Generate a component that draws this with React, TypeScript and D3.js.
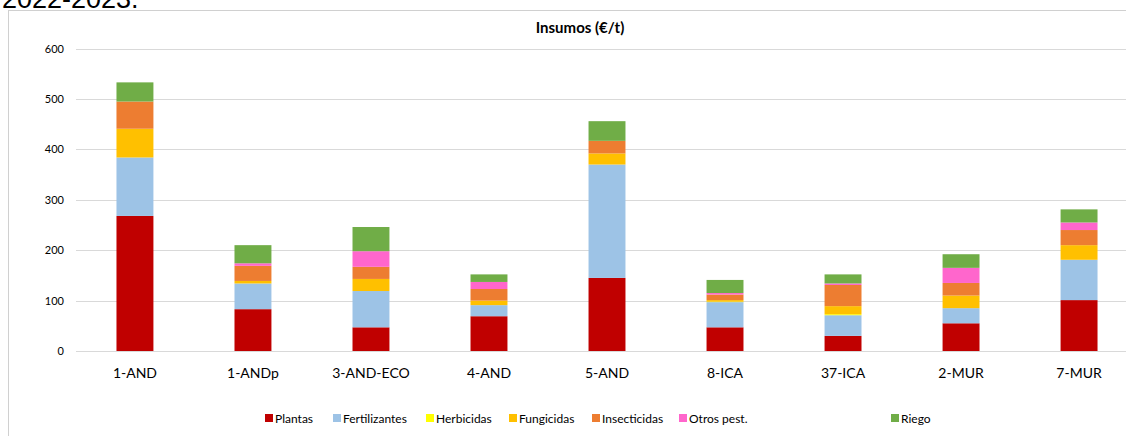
import { useRef, useEffect } from "react";
import * as d3 from "d3";

const categories = ["1-AND", "1-ANDp", "3-AND-ECO", "4-AND", "5-AND", "8-ICA", "37-ICA", "2-MUR", "7-MUR"];
const seriesNames = ["Plantas", "Fertilizantes", "Herbicidas", "Fungicidas", "Insecticidas", "Otros pest.", "Riego"];
const plantas = [268, 83, 47, 69, 145, 47, 30, 55, 101];
const fertilizantes = [116, 51, 72, 22, 225, 50, 41, 30, 80];
const herbicidas = [0, 0, 0, 0, 0, 1, 2, 0, 0];
const fungicidas = [57, 5, 24, 9, 22, 3, 16, 25, 29];
const insecticidas = [54, 30, 24, 23, 25, 11, 42, 25, 30];
const otros = [0, 5, 31, 14, 0, 3, 3, 30, 15];
const riego = [38, 36, 48, 15, 39, 26, 18, 27, 26];
const yTicks = [0, 100, 200, 300, 400, 500, 600];
const colors = ["#C00000", "#9DC3E6", "#FFFF00", "#FFC000", "#ED7D31", "#FF66CC", "#70AD47"];

const App = () => {
  const svgRef = useRef(null);

  useEffect(() => {
    const w = 1126;
    const h = 436;
    const svg = d3.select(svgRef.current).attr("width", w).attr("height", h);
    svg.selectAll("*").remove();

    // header text, cut off at the top like the source
    svg.append("text").attr("x", 2).attr("y", 8)
      .style("font-family", "Liberation Sans, Arial, sans-serif").style("font-size", "27px")
      .attr("fill", "#000").text("2022-2023.");

    // chart frame
    svg.append("rect").attr("x", 8.5).attr("y", 10.5).attr("width", 1200).attr("height", 500)
      .attr("fill", "#fff").attr("stroke", "#d0d0d0");

    const x = d3.scaleBand().domain(categories).range([76, 1138]).paddingInner(0.687).paddingOuter(0.343);
    const y = d3.scaleLinear().domain([0, 600]).range([351, 48.6]);

    // grid
    svg.append("g").selectAll("line").data(yTicks).join("line")
      .attr("x1", 76).attr("x2", w).attr("y1", (d) => Math.round(y(d)) + 0.5).attr("y2", (d) => Math.round(y(d)) + 0.5)
      .attr("stroke", "#d9d9d9").attr("stroke-width", 1);

    const yAxis = d3.axisLeft(y).tickValues(yTicks).tickSize(0).tickPadding(0);
    const yg = svg.append("g").attr("transform", "translate(64,0)").call(yAxis);
    yg.select(".domain").remove();
    yg.selectAll("text").style("font-family", "Lato, sans-serif").style("font-size", "11px").attr("fill", "#000");

    const rows = categories.map((c, i) => ({
      cat: c,
      Plantas: plantas[i], Fertilizantes: fertilizantes[i], Herbicidas: herbicidas[i],
      Fungicidas: fungicidas[i], Insecticidas: insecticidas[i], "Otros pest.": otros[i], Riego: riego[i],
    }));
    const stack = d3.stack().keys(seriesNames)(rows);

    svg.append("g").selectAll("g").data(stack).join("g")
      .attr("fill", (d, i) => colors[i])
      .selectAll("rect").data((d) => d).join("rect")
      .attr("x", (d) => x(d.data.cat))
      .attr("width", x.bandwidth())
      .attr("y", (d) => y(d[1]))
      .attr("height", (d) => y(d[0]) - y(d[1]));

    // x axis
    const xg = svg.append("g").attr("transform", "translate(0,351)").call(d3.axisBottom(x).tickSize(0).tickPadding(17));
    xg.select(".domain").remove();
    xg.selectAll("text").style("font-family", "Lato, sans-serif").style("font-size", "14px").attr("fill", "#000");

    // title
    svg.append("text").attr("x", 580).attr("y", 33).attr("text-anchor", "middle")
      .style("font-family", "Lato, sans-serif").style("font-size", "15px").style("font-weight", "bold")
      .attr("fill", "#000").text("Insumos (€/t)");

    // legend
    const legendX = [265, 333, 426, 509, 592, 679, 891];
    const lg = svg.append("g").selectAll("g").data(seriesNames).join("g")
      .attr("transform", (d, i) => `translate(${legendX[i]},418)`);
    lg.append("rect").attr("x", 0).attr("y", -4).attr("width", 8).attr("height", 8).attr("fill", (d, i) => colors[i]);
    lg.append("text").attr("x", 10).attr("y", 4.5)
      .style("font-family", "Lato, sans-serif").style("font-size", "12px").attr("fill", "#000").text((d) => d);
  }, []);

  return <svg ref={svgRef} style={{ position: "absolute", left: 0, top: 0, display: "block" }}></svg>;
};

export default App;
